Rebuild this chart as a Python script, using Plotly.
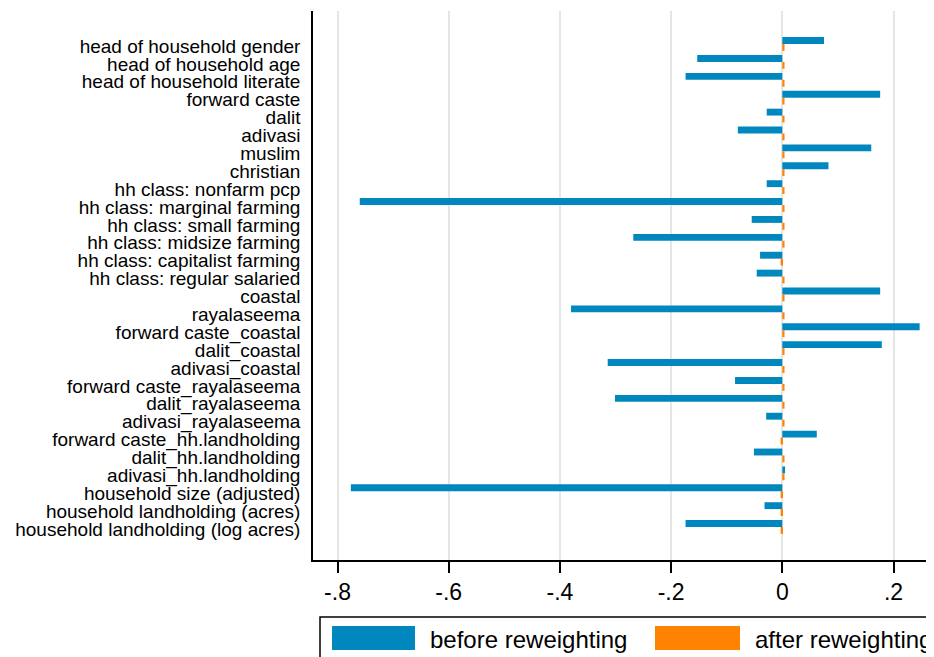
import plotly.graph_objects as go

categories = [
    "head of household gender", "head of household age", "head of household literate",
    "forward caste", "dalit", "adivasi", "muslim", "christian",
    "hh class: nonfarm pcp", "hh class: marginal farming", "hh class: small farming",
    "hh class: midsize farming", "hh class: capitalist farming", "hh class: regular salaried",
    "coastal", "rayalaseema", "forward caste_coastal", "dalit_coastal", "adivasi_coastal",
    "forward caste_rayalaseema", "dalit_rayalaseema", "adivasi_rayalaseema",
    "forward caste_hh.landholding", "dalit_hh.landholding", "adivasi_hh.landholding",
    "household size (adjusted)", "household landholding (acres)", "household landholding (log acres)",
]
before = [0.075, -0.153, -0.174, 0.176, -0.028, -0.080, 0.160, 0.083,
          -0.028, -0.760, -0.055, -0.268, -0.040, -0.046,
          0.176, -0.380, 0.247, 0.179, -0.314, -0.085, -0.301, -0.029,
          0.062, -0.051, 0.005, -0.776, -0.032, -0.174]
after = [0.004, 0.004, 0.004, 0.004, 0.004, 0.004, 0.004, 0.004,
         0.004, 0.004, 0.004, 0.004, -0.003, 0.004,
         0.004, 0.004, 0.004, 0.004, 0.004, 0.004, 0.004, 0.004,
         -0.003, 0.004, 0.004, -0.003, -0.003, -0.003]
tick_vals = [-0.8, -0.6, -0.4, -0.2, 0, 0.2]
tick_text = ["-.8", "-.6", "-.4", "-.2", "0", ".2"]
legend_names = ["before reweighting", "after reweighting"]

BLUE = "#0088be"
ORANGE = "#ff8200"
FONT = "Liberation Sans, Arial, sans-serif"

OFF = 8  # page body margin
W, H = 934, 657
# plot area in window pixels
WL, WT, WR, WB = 313, 11, 942, 560
L, T = WL - OFF, WT - OFF
R = W - (WR - OFF)
B = H - (WB - OFF)
pw, ph = W - L - R, H - T - B

def px(x):
    return (x - OFF - L) / pw

def py(y):
    return (H - B - (y - OFF)) / ph

X0, SCALE = 782.3, 556.0
fig = go.Figure()
fig.add_trace(go.Bar(y=categories, x=before, orientation="h", marker_color=BLUE,
                     marker_line_width=0, name=legend_names[0], showlegend=False))
fig.add_trace(go.Bar(y=categories, x=after, orientation="h", marker_color=ORANGE,
                     marker_line_width=0, name=legend_names[1], showlegend=False))

n = len(categories)
pad = 1.845
fig.update_layout(
    width=W, height=H,
    margin=dict(l=L, r=R, t=T, b=B, pad=0),
    paper_bgcolor="white", plot_bgcolor="white",
    barmode="group", bargap=0.23, bargroupgap=0,
    font=dict(family=FONT, color="black"),
    xaxis=dict(range=[(WL - X0) / SCALE, (WR - X0) / SCALE],
               tickmode="array", tickvals=tick_vals, ticktext=tick_text,
               tickfont=dict(size=23, family=FONT, color="black"),
               ticks="outside", ticklen=11, tickwidth=1.5, tickcolor="black",
               showline=True, linecolor="black", linewidth=1.5,
               showgrid=True, gridcolor="#e6e6e6", gridwidth=1.5,
               zeroline=True, zerolinecolor="#e6e6e6", zerolinewidth=1.5),
    yaxis=dict(categoryorder="array", categoryarray=categories,
               tickmode="array", tickvals=categories, ticktext=categories,
               range=[n - 1 + pad, -pad],
               tickfont=dict(size=19, family=FONT, color="black"),
               ticks="outside", ticklen=7, tickcolor="rgba(0,0,0,0)",
               ticklabelshift=-2,
               showline=True, linecolor="black", linewidth=1.5,
               showgrid=False, zeroline=False),
    showlegend=False,
)

shapes = [
    dict(type="rect", xref="paper", yref="paper", x0=px(320), x1=px(950), y0=py(617), y1=py(670),
         line=dict(color="black", width=1.5), fillcolor="white", layer="above"),
    dict(type="rect", xref="paper", yref="paper", x0=px(332), x1=px(415), y0=py(626), y1=py(650),
         line=dict(width=0), fillcolor=BLUE, layer="above"),
    dict(type="rect", xref="paper", yref="paper", x0=px(655), x1=px(740), y0=py(626), y1=py(650),
         line=dict(width=0), fillcolor=ORANGE, layer="above"),
]
annotations = [
    dict(xref="paper", yref="paper", x=px(428), y=py(639), text=legend_names[0], showarrow=False,
         xanchor="left", yanchor="middle", font=dict(size=24, family=FONT, color="black")),
    dict(xref="paper", yref="paper", x=px(753), y=py(639), text=legend_names[1], showarrow=False,
         xanchor="left", yanchor="middle", font=dict(size=24, family=FONT, color="black")),
]
fig.update_layout(shapes=shapes, annotations=annotations)

fig.write_html("out.html")
